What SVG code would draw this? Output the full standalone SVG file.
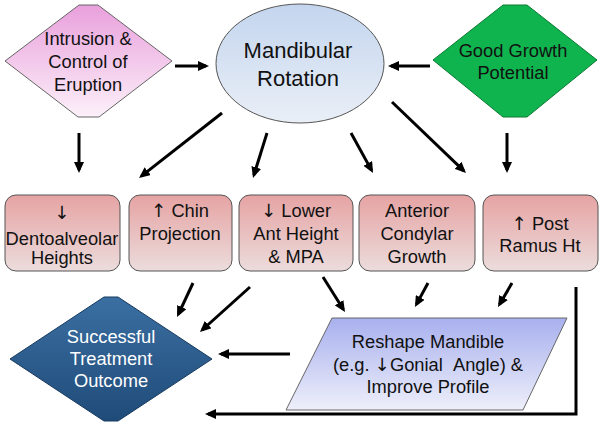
<svg xmlns="http://www.w3.org/2000/svg" width="603" height="426" viewBox="0 0 603 426">
<style>
text{font-family:"Liberation Sans",Arial,sans-serif;font-size:18.3px;fill:#111;text-anchor:middle}
.ar{font-family:"DejaVu Sans",sans-serif}
.box{fill:url(#gBox);stroke:#555;stroke-width:1}
.conn{fill:none;stroke:#000;stroke-width:3;marker-end:url(#ah)}
.w{fill:#fff}
</style>
<defs>
<marker id="ah" markerUnits="userSpaceOnUse" markerWidth="11" markerHeight="10" viewBox="0 0 11 10" refX="8" refY="5" orient="auto">
<path d="M0,0 L11,5 L0,10 z" fill="#000"/>
</marker>
<linearGradient id="gPink" x1="0" y1="0" x2="0" y2="1"><stop offset="0" stop-color="#e9a0dc"/><stop offset="1" stop-color="#fcf0f9"/></linearGradient>
<linearGradient id="gEll" x1="0" y1="0" x2="0" y2="1"><stop offset="0" stop-color="#c3d5ee"/><stop offset="1" stop-color="#eaeff7"/></linearGradient>
<linearGradient id="gBox" x1="0" y1="0" x2="0" y2="1"><stop offset="0" stop-color="#e6a3a3"/><stop offset="1" stop-color="#ecdcdc"/></linearGradient>
<linearGradient id="gPar" x1="0" y1="0" x2="0" y2="1"><stop offset="0" stop-color="#a8b0ee"/><stop offset="1" stop-color="#eeeffa"/></linearGradient>
<linearGradient id="gBlue" x1="0" y1="0" x2="0" y2="1"><stop offset="0" stop-color="#3b6fa2"/><stop offset="1" stop-color="#1f4b79"/></linearGradient>
</defs>

<g id="connectors">
<line class="conn" x1="175" y1="66" x2="206" y2="66"/>
<line class="conn" x1="430" y1="66" x2="391" y2="66"/>
<line class="conn" x1="79" y1="133" x2="79" y2="170"/>
<line class="conn" x1="222" y1="113" x2="141.4" y2="176.1"/>
<line class="conn" x1="267" y1="133" x2="253.9" y2="175.1"/>
<line class="conn" x1="351" y1="133" x2="371.6" y2="170.4"/>
<line class="conn" x1="392" y1="102" x2="463.8" y2="170.9"/>
<line class="conn" x1="507" y1="133" x2="507" y2="170"/>
<line class="conn" x1="193" y1="283" x2="178.3" y2="314.3"/>
<line class="conn" x1="250" y1="287" x2="202.2" y2="330"/>
<line class="conn" x1="323" y1="277" x2="343.4" y2="309.5"/>
<line class="conn" x1="428" y1="283" x2="416.4" y2="304.4"/>
<line class="conn" x1="512" y1="283" x2="499.5" y2="304.4"/>
<line class="conn" x1="290" y1="354" x2="221" y2="354"/>
<polyline class="conn" points="576,287 576,414 208,414"/>
</g>

<g id="intrusion">
<polygon points="5,61 79,5 98,5 172,61 99,117 78,117" fill="url(#gPink)" stroke="#666" stroke-width="1"/>
<text x="88" y="45">Intrusion &amp;</text>
<text x="88" y="68">Control of</text>
<text x="88" y="91">Eruption</text>
</g>

<g id="rotation">
<ellipse cx="300" cy="63.5" rx="84" ry="59.5" fill="url(#gEll)" stroke="#555" stroke-width="1"/>
<text x="298" y="58" style="font-size:22px">Mandibular</text>
<text x="298" y="86" style="font-size:22px">Rotation</text>
</g>

<g id="growth">
<polygon points="433,60 503,5 527,5 597,60 527,117 503,117" fill="#10b44e" stroke="#0b7a33" stroke-width="1"/>
<text x="513" y="57">Good Growth</text>
<text x="513" y="79">Potential</text>
</g>

<g id="dento">
<rect class="box" x="5" y="195" width="115" height="76" rx="11"/>
<text x="62" y="219"><tspan class="ar">↓</tspan></text>
<text x="62" y="245">Dentoalveolar</text>
<text x="62" y="264">Heights</text>
</g>

<g id="chin">
<rect class="box" x="129" y="195" width="103" height="76" rx="11"/>
<text x="180" y="217"><tspan class="ar">↑</tspan> Chin</text>
<text x="180" y="240">Projection</text>
</g>

<g id="lower">
<rect class="box" x="239" y="195" width="114" height="76" rx="11"/>
<text x="296" y="217"><tspan class="ar">↓</tspan> Lower</text>
<text x="296" y="240">Ant Height</text>
<text x="296" y="263">&amp; MPA</text>
</g>

<g id="condylar">
<rect class="box" x="359" y="195" width="116" height="76" rx="11"/>
<text x="417" y="217">Anterior</text>
<text x="417" y="240">Condylar</text>
<text x="417" y="263">Growth</text>
</g>

<g id="ramus">
<rect class="box" x="483" y="195" width="115" height="76" rx="11"/>
<text x="540" y="230"><tspan class="ar">↑</tspan> Post</text>
<text x="540" y="252">Ramus Ht</text>
</g>

<g id="reshape">
<polygon points="332,318 567,318 523,410 286,410" fill="url(#gPar)" stroke="#666" stroke-width="1"/>
<text x="428" y="348">Reshape Mandible</text>
<text x="428" y="371">(e.g. <tspan class="ar">↓</tspan>Gonial &#160;Angle) &amp;</text>
<text x="428" y="393">Improve Profile</text>
</g>

<g id="outcome">
<polygon points="10,359 104,297 118,297 212,359 118,421 104,421" fill="url(#gBlue)" stroke="#173a5f" stroke-width="1"/>
<text class="w" x="111" y="343">Successful</text>
<text class="w" x="111" y="365">Treatment</text>
<text class="w" x="111" y="387">Outcome</text>
</g>
</svg>
